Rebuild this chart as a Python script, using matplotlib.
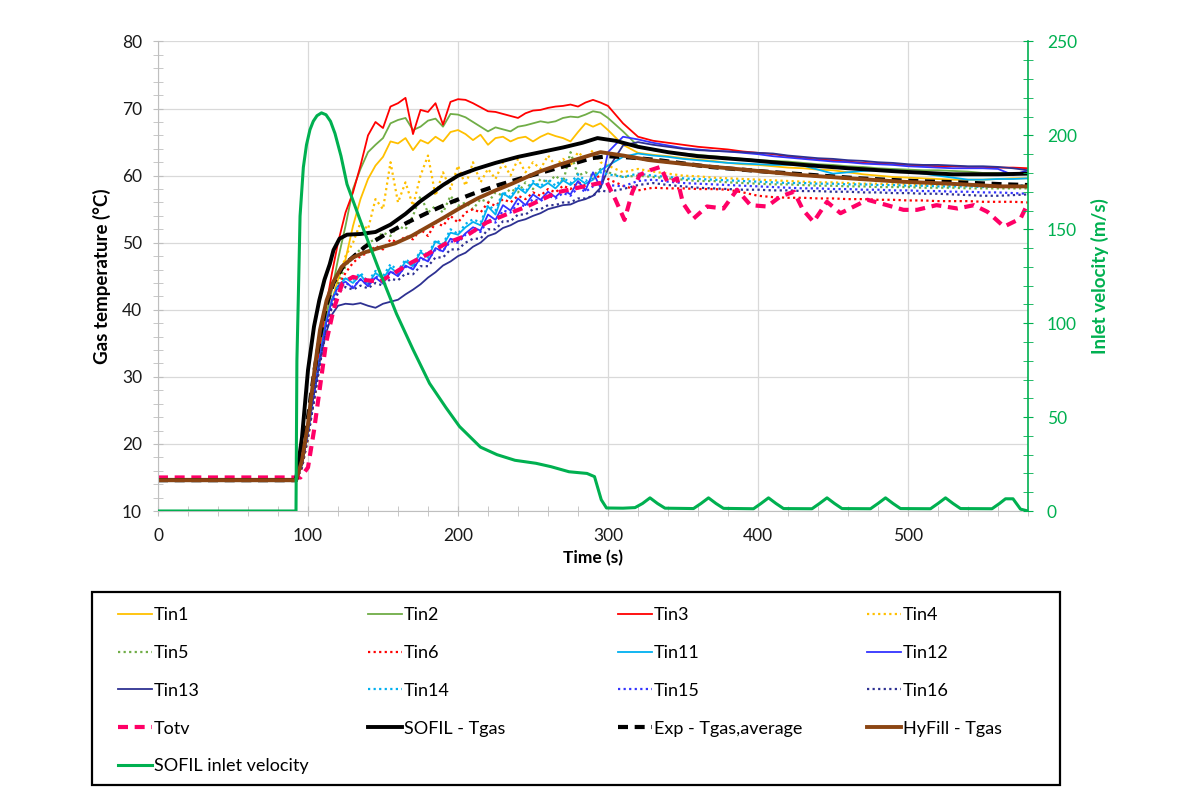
import matplotlib.pyplot as plt
from matplotlib.patches import Rectangle
from matplotlib.ticker import MultipleLocator

plt.rcParams['font.family'] = ['Lato', 'DejaVu Sans']

# sampling grid of the thermocouple records (s)
t_exp = [0, 92, 96, 100, 104, 108, 112, 116] + list(range(120, 301, 5)) + list(range(310, 581, 10))

# gas temperatures (degC)
tin1 = [14.6, 14.6, 17.0, 22.0, 27.5, 33.0, 38.0, 41.5,
        44.5, 47.5, 52.5, 56.5, 59.5, 61.5, 62.8, 65.1, 64.8, 65.6, 63.8, 65.3, 64.8, 65.8, 65.1, 66.5, 66.8, 66.2, 65.3, 66.1,
        64.6, 65.6, 65.8, 65.1, 65.6, 65.8, 65.1, 65.8, 66.3, 65.9, 65.6, 65.1, 66.5, 67.8, 67.3, 67.8, 66.8,
        64.6, 63.4, 63.1, 62.9, 62.6, 62.4, 62.2, 61.9, 61.7, 61.6, 61.4, 61.2, 61.1, 60.9, 60.8, 60.5, 60.2, 60.0, 59.8, 59.7,
        59.6, 59.5, 59.4, 59.4, 59.4, 59.5, 59.6, 59.6]
tin2 = [14.6, 14.6, 17.5, 22.5, 28.5, 34.0, 39.0, 43.0,
        47.5, 52.5, 58.0, 61.0, 63.5, 64.6, 65.6, 67.8, 68.3, 68.6, 66.8, 67.3, 68.2, 68.5, 67.3, 69.2, 69.1, 68.7, 68.0, 67.3,
        66.6, 67.2, 66.9, 66.6, 67.3, 67.5, 67.8, 68.1, 67.9, 68.1, 68.6, 68.8, 68.7, 69.1, 69.6, 69.4, 68.6,
        66.6, 64.4, 63.8, 63.5, 63.3, 63.1, 62.9, 62.7, 62.5, 62.3, 62.2, 62.1, 61.9, 61.7, 61.6, 61.4, 61.3, 61.1, 61.0, 60.9,
        60.8, 60.8, 60.7, 60.6, 60.4, 60.4, 60.3, 60.3]
tin3 = [14.8, 14.8, 18.0, 23.0, 29.0, 35.0, 40.5, 45.5,
        50.0, 54.5, 57.5, 61.5, 66.0, 68.0, 67.1, 70.3, 70.8, 71.6, 66.2, 69.8, 69.5, 70.8, 67.6, 71.0, 71.4, 71.3, 70.8, 70.2,
        69.6, 69.5, 69.2, 68.9, 68.6, 69.3, 69.7, 69.8, 70.1, 70.3, 70.4, 70.6, 70.3, 70.9, 71.3, 70.9, 70.4,
        67.8, 65.8, 65.2, 64.9, 64.6, 64.3, 64.1, 63.9, 63.6, 63.4, 63.2, 62.9, 62.6, 62.4, 62.3, 62.1, 61.9, 61.8, 61.7, 61.6,
        61.5, 61.4, 61.4, 61.3, 61.3, 61.2, 61.2, 61.1]
tin4 = [14.6, 14.6, 16.5, 21.0, 26.5, 32.0, 37.0, 41.0,
        44.0, 48.0, 50.0, 53.0, 52.0, 56.5, 55.0, 62.0, 56.0, 59.0, 55.5, 60.0, 63.0, 57.0, 60.5, 58.0, 61.5, 58.5, 62.0, 59.0,
        61.0, 59.5, 62.0, 60.0, 62.5, 60.5, 62.0, 61.0, 63.0, 61.5, 62.5, 61.5, 63.5, 62.5, 63.8, 62.0, 61.5,
        60.5, 61.0, 60.6, 60.3, 60.0, 59.9, 59.7, 59.6, 59.5, 59.4, 59.3, 59.2, 59.1, 59.0, 59.0, 58.9, 58.8, 58.8, 58.7, 58.7,
        58.6, 58.6, 58.5, 58.5, 58.4, 58.4, 58.3, 58.3]
tin5 = [14.6, 14.6, 16.5, 21.0, 26.5, 32.0, 37.0, 41.0,
        44.0, 46.5, 48.0, 49.0, 50.0, 50.5, 51.5, 51.0, 52.5, 52.0, 54.0, 57.0, 54.5, 55.5, 54.5, 57.0, 55.5, 56.0, 55.0, 56.5,
        56.0, 57.5, 57.0, 58.0, 57.5, 59.0, 58.0, 59.5, 59.0, 60.0, 59.0, 63.5, 60.0, 60.5, 60.0, 61.0, 60.5,
        59.8, 60.0, 59.8, 59.6, 59.4, 59.2, 59.2, 59.0, 58.9, 58.8, 58.7, 58.7, 58.6, 58.5, 58.5, 58.4, 58.4, 58.3, 58.3, 58.3,
        58.2, 58.2, 58.2, 58.1, 58.1, 58.1, 58.1, 58.1]
tin6 = [14.6, 14.6, 16.5, 21.0, 26.5, 32.0, 37.0, 41.0,
        43.5, 45.5, 47.0, 48.0, 48.5, 49.5, 49.0, 50.5, 50.0, 51.0, 50.5, 52.0, 51.0, 53.0, 52.5, 54.0, 53.0, 54.5, 55.0, 54.5,
        56.0, 55.5, 56.5, 56.0, 57.0, 56.5, 57.5, 57.0, 58.0, 57.5, 58.5, 58.0, 59.0, 58.5, 59.5, 60.0, 59.5,
        58.5, 57.8, 58.2, 58.1, 58.1, 58.0, 58.0, 57.9, 57.5, 57.0, 56.8, 56.7, 56.7, 56.6, 56.6, 56.5, 56.5, 56.4, 56.4, 56.3,
        56.3, 56.2, 56.2, 56.2, 56.1, 56.1, 56.1, 56.0]
tin11 = [14.7, 14.7, 17.0, 22.0, 27.5, 33.0, 38.0, 41.5,
         43.5, 44.7, 44.0, 45.2, 43.8, 45.5, 44.6, 46.3, 45.4, 47.2, 46.5, 48.6, 47.8, 50.2, 49.6, 51.5, 51.2, 52.3, 53.1, 52.6,
         55.4, 54.2, 57.4, 56.6, 58.2, 57.4, 58.9, 58.2, 58.9, 58.1, 59.3, 58.6, 59.6, 58.8, 59.4, 60.8, 61.5,
         62.8, 63.3, 63.0, 62.8, 62.5, 62.3, 62.1, 61.9, 61.8, 61.7, 61.6, 61.6, 61.5, 60.9, 60.3, 60.5, 60.7, 60.8, 60.8, 60.6,
         60.3, 60.0, 59.7, 59.4, 59.4, 59.5, 59.5, 59.6]
tin12 = [14.7, 14.7, 17.0, 22.0, 27.5, 33.0, 38.0, 41.5,
         43.5, 44.2, 43.2, 44.6, 43.5, 44.8, 43.9, 45.7, 45.0, 46.6, 46.0, 47.8, 47.2, 49.2, 48.7, 50.6, 50.2, 51.4, 52.3, 51.8,
         54.2, 53.4, 55.6, 54.8, 56.6, 55.6, 57.2, 56.4, 57.6, 56.8, 57.9, 57.2, 59.2, 57.8, 60.5, 58.2, 63.5,
         65.8, 65.4, 64.9, 64.5, 64.1, 63.9, 63.7, 63.6, 63.4, 63.2, 62.9, 62.7, 62.5, 62.3, 62.1, 62.0, 61.8, 61.7, 61.6, 61.4,
         61.3, 61.2, 61.1, 61.1, 61.1, 61.0, 60.1, 60.8]
tin13 = [14.6, 14.6, 17.0, 22.0, 27.5, 32.5, 36.5, 39.3,
         40.6, 40.9, 40.8, 41.0, 40.6, 40.3, 40.9, 41.2, 41.5, 42.3, 43.0, 43.8, 44.8, 45.6, 46.6, 47.2, 48.0, 48.5, 49.4, 50.0,
         51.0, 51.4, 52.2, 52.6, 53.2, 53.5, 54.0, 54.4, 55.0, 55.3, 55.6, 55.7, 56.2, 56.5, 57.0, 58.2, 61.0,
         64.5, 65.0, 64.6, 64.3, 64.0, 63.8, 63.7, 63.6, 63.5, 63.4, 63.3, 63.0, 62.8, 62.6, 62.5, 62.3, 62.2, 62.0, 61.9, 61.7,
         61.6, 61.6, 61.5, 61.4, 61.4, 61.3, 61.1, 60.8]
tin14 = [14.7, 14.7, 16.8, 21.5, 27.0, 32.5, 37.5, 41.2,
         43.5, 44.8, 44.5, 45.5, 44.2, 45.8, 45.0, 46.8, 45.8, 47.5, 46.8, 48.8, 48.2, 50.4, 49.8, 52.0, 51.3, 52.8, 53.5, 53.0,
         55.6, 54.8, 57.6, 56.8, 58.6, 57.6, 59.2, 58.4, 59.5, 58.5, 59.7, 58.9, 60.2, 59.2, 59.8, 60.5, 60.2,
         59.8, 60.3, 60.0, 59.8, 59.6, 59.5, 59.4, 59.3, 59.2, 59.1, 59.0, 58.9, 58.9, 58.8, 58.8, 58.7, 58.7, 58.6, 58.6, 58.5,
         58.5, 58.4, 58.4, 58.4, 58.3, 58.4, 58.5, 58.6]
tin15 = [14.7, 14.7, 16.8, 21.5, 27.0, 32.5, 37.5, 41.0,
         43.0, 44.0, 43.4, 44.5, 43.7, 45.0, 44.3, 45.7, 45.2, 46.4, 46.2, 47.6, 47.4, 49.0, 48.8, 50.2, 50.0, 51.2, 51.8, 51.6,
         53.4, 53.0, 54.8, 54.5, 55.8, 55.4, 56.5, 56.2, 57.0, 56.6, 57.4, 57.0, 58.2, 57.6, 58.4, 59.0, 58.6,
         58.4, 59.2, 59.4, 59.1, 58.9, 58.8, 58.7, 58.6, 58.5, 58.4, 58.3, 58.2, 58.1, 58.1, 58.0, 58.0, 57.9, 57.9, 57.8, 57.8,
         57.7, 57.7, 57.6, 57.6, 57.5, 57.5, 57.4, 57.3]
tin16 = [14.6, 14.6, 16.5, 21.0, 26.5, 32.0, 36.8, 40.5,
         42.5, 43.4, 43.0, 43.6, 43.2, 44.0, 43.6, 44.6, 44.4, 45.4, 45.3, 46.5, 46.5, 47.8, 47.8, 49.0, 49.0, 50.0, 50.6, 50.6,
         52.0, 52.0, 53.2, 53.2, 54.2, 54.2, 55.0, 55.0, 55.6, 55.6, 56.0, 56.0, 56.6, 56.6, 57.0, 57.8, 57.6,
         58.0, 58.6, 58.9, 58.6, 58.4, 58.2, 58.1, 58.0, 57.9, 57.9, 57.8, 57.8, 57.7, 57.7, 57.6, 57.6, 57.5, 57.5, 57.4, 57.4,
         57.3, 57.3, 57.2, 57.1, 57.0, 57.0, 57.1, 57.2]

t_totv = [0, 95, 100, 104, 108, 112, 117, 123, 130, 139, 148, 157, 166, 179, 192, 206, 219, 232, 246, 266,
          284, 299, 305, 311, 316, 321, 328, 335, 340, 346, 350, 357, 366, 377, 386, 395, 406, 415, 424, 430,
          437, 446, 455, 464, 473, 486, 497, 506, 519, 533, 544, 553, 564, 575, 580]
totv = [15.0, 15.0, 16.5, 22.0, 28.5, 35.0, 40.0, 44.0, 44.9, 44.4, 44.2, 45.4, 46.7, 48.2, 49.9, 51.1, 53.0, 54.2, 55.4, 57.5,
        58.4, 59.1, 56.4, 53.4, 57.4, 60.1, 60.8, 61.3, 58.9, 59.6, 55.9, 53.6, 55.4, 55.1, 57.9, 55.6, 55.4, 56.9, 57.6, 54.9,
        53.1, 56.1, 54.4, 55.4, 56.4, 55.6, 54.9, 54.9, 55.6, 55.1, 55.6, 54.6, 52.4, 53.6, 55.9]

t_sofil = [0, 92, 96, 100, 104, 107.5, 111, 114.5, 117, 121, 126, 135, 145, 155, 165, 175, 190, 200, 212, 225,
           240, 255, 270, 283, 293, 305, 320, 340, 360, 395, 430, 460, 495, 530, 560, 580]
sofil = [14.6, 14.6, 21.0, 31.0, 37.5, 41.4, 44.5, 46.8, 48.9, 50.6, 51.2, 51.3, 51.6, 52.7, 54.3, 56.2, 58.6, 60.0, 61.0, 61.9,
         62.8, 63.5, 64.2, 64.9, 65.6, 65.2, 64.3, 63.5, 62.9, 62.3, 61.6, 61.1, 60.6, 60.2, 60.2, 60.3]

t_avg = [0, 92, 96, 100, 104, 108, 112, 117, 124, 138, 152, 167, 180, 196, 210, 227, 242, 258, 274, 289,
         300, 315, 334, 368, 405, 436, 467, 503, 534, 565, 580]
exp_avg = [14.6, 14.6, 18.0, 24.0, 30.5, 36.0, 40.5, 44.0, 46.7, 49.4, 51.3, 53.1, 54.5, 56.1, 57.3, 58.6, 59.6, 60.6, 61.6, 62.6,
           62.9, 62.7, 62.3, 61.3, 60.6, 60.1, 59.6, 59.2, 59.0, 58.7, 58.6]

t_hyfill = [0, 92, 96, 100, 104.6, 108, 112.4, 117, 122.4, 130, 137, 147, 158, 169, 180, 191, 200, 213, 224, 236,
            253, 267, 283, 295, 310, 328, 361, 395, 428, 461, 495, 528, 561, 580]
hyfill = [14.6, 14.6, 17.5, 23.0, 31.5, 37.0, 41.4, 44.2, 46.4, 47.8, 48.5, 49.2, 49.9, 51.0, 52.4, 53.8, 55.0, 56.6, 57.7, 58.8,
          60.5, 61.6, 62.7, 63.5, 63.0, 62.3, 61.5, 60.8, 60.1, 59.6, 59.1, 58.8, 58.4, 58.4]

# SOFIL inlet velocity (m/s)
t_vel = [0, 92, 92.6, 93.5, 94.7, 96.9, 99, 101.3, 103.5, 106, 109, 112, 115, 118, 122, 126, 137, 148, 159, 170,
         181, 192, 201, 215, 226, 238, 252, 262, 274, 286, 291, 295.5, 299, 310,
         318, 323, 328, 333, 338, 357, 362, 367, 372, 377, 397, 402, 407, 412, 417,
         436, 441, 446, 451, 456, 475, 480, 485, 490, 495, 515, 520, 525, 530, 535,
         556, 561, 565, 570, 575, 580]
vel = [0, 0, 80, 112, 157, 183, 195, 203, 207.5, 210.5, 212, 211, 207.5, 201, 189, 174, 150, 127, 105, 86,
       68, 55, 45, 34, 30, 27, 25.4, 23.6, 20.9, 20, 18.3, 6, 1.6, 1.5,
       1.8, 4, 7, 4, 1.5, 1.3, 4, 7, 4, 1.4, 1.2, 4, 7, 4, 1.3,
       1.2, 4, 7, 4, 1.3, 1.2, 4, 7, 4, 1.3, 1.2, 4, 7, 4, 1.3,
       1.2, 4, 6.5, 6.5, 1, 0]

GREEN = '#00B050'
DOT = (0, (1, 1.5))

fig = plt.figure(figsize=(11.78, 8.07), dpi=100)
ax = fig.add_axes([158 / 1178, 1 - 511 / 807, 870 / 1178, 469.5 / 807])
ax2 = ax.twinx()

series = [
    (tin1, 'Tin1', '#FFC000', '-', 1.3),
    (tin2, 'Tin2', '#70AD47', '-', 1.3),
    (tin3, 'Tin3', '#FF0000', '-', 1.3),
    (tin4, 'Tin4', '#FFC000', DOT, 1.6),
    (tin5, 'Tin5', '#70AD47', DOT, 1.6),
    (tin6, 'Tin6', '#FF0000', DOT, 1.6),
    (tin11, 'Tin11', '#00B0F0', '-', 1.3),
    (tin12, 'Tin12', '#3333FF', '-', 1.3),
    (tin13, 'Tin13', '#2E3192', '-', 1.3),
    (tin14, 'Tin14', '#00B0F0', DOT, 1.6),
    (tin15, 'Tin15', '#3333FF', DOT, 1.6),
    (tin16, 'Tin16', '#2E3192', DOT, 1.6),
]
h = {}
for vals, name, col, ls, lw in series:
    h[name], = ax.plot(t_exp, vals, color=col, ls=ls, lw=lw)

h['Totv'], = ax.plot(t_totv, totv, color='#FF0066', ls=(0, (2.4, 1.6)), lw=3)
h['SOFIL - Tgas'], = ax.plot(t_sofil, sofil, color='black', lw=2.8)
h['Exp - Tgas,average'], = ax.plot(t_avg, exp_avg, color='black', ls=(0, (2.4, 1.6)), lw=3)
h['HyFill - Tgas'], = ax.plot(t_hyfill, hyfill, color='#8B4513', lw=2.8)
h['SOFIL inlet velocity'], = ax2.plot(t_vel, vel, color=GREEN, lw=2.2)

# axes
ax.set_xlim(0, 580)
ax.set_ylim(10, 80)
ax2.set_ylim(0, 250)
ax.xaxis.set_major_locator(MultipleLocator(100))
ax.xaxis.set_minor_locator(MultipleLocator(20))
ax.yaxis.set_major_locator(MultipleLocator(10))
ax.yaxis.set_minor_locator(MultipleLocator(2))
ax2.yaxis.set_major_locator(MultipleLocator(50))
ax2.yaxis.set_minor_locator(MultipleLocator(10))
ax.grid(which='major', color='#d9d9d9', lw=0.9)
ax.set_axisbelow(True)

for s in ['top', 'right']:
    ax.spines[s].set_visible(False)
for s in ['left', 'bottom']:
    ax.spines[s].set_color('#bfbfbf')
for s in ['top', 'left', 'bottom']:
    ax2.spines[s].set_visible(False)
ax2.spines['right'].set_color(GREEN)
ax2.spines['right'].set_linewidth(1.2)

ax.tick_params(which='both', direction='inout', length=7, color='#bfbfbf', labelsize=12.5, labelcolor='#1a1a1a')
ax.tick_params(axis='y', pad=8)
ax.tick_params(axis='x', pad=9)
ax2.tick_params(which='both', direction='inout', length=7, color=GREEN, labelcolor=GREEN, labelsize=12.5, pad=10)

ax.set_xlabel('Time (s)', fontweight='bold', fontsize=12.5, labelpad=4)
ax.set_ylabel('Gas temperature (°C)', fontweight='bold', fontsize=13.5, labelpad=8)
ax2.set_ylabel('Inlet velocity (m/s)', fontweight='bold', fontsize=13.5, color=GREEN, labelpad=10)

# legend: Excel style box, 4 columns filled row by row
cols = [['Tin1', 'Tin5', 'Tin13', 'Totv', 'SOFIL inlet velocity'],
        ['Tin2', 'Tin6', 'Tin14', 'SOFIL - Tgas'],
        ['Tin3', 'Tin11', 'Tin15', 'Exp - Tgas,average'],
        ['Tin4', 'Tin12', 'Tin16', 'HyFill - Tgas']]
col_x = [118, 368, 618, 867]
for names, x in zip(cols, col_x):
    fig.legend([h[n] for n in names], names, loc='upper left',
               bbox_to_anchor=(x / 1178, 1 - 607 / 807), bbox_transform=fig.transFigure,
               frameon=False, borderpad=0, borderaxespad=0, handlelength=1.9,
               handletextpad=0.1, labelspacing=1.21, fontsize=13)
fig.add_artist(Rectangle((92 / 1178, 1 - 785 / 807), 968 / 1178, 193 / 807,
                         transform=fig.transFigure, fill=False, ec='black', lw=1.6))

fig.savefig('out.png', dpi=100)
